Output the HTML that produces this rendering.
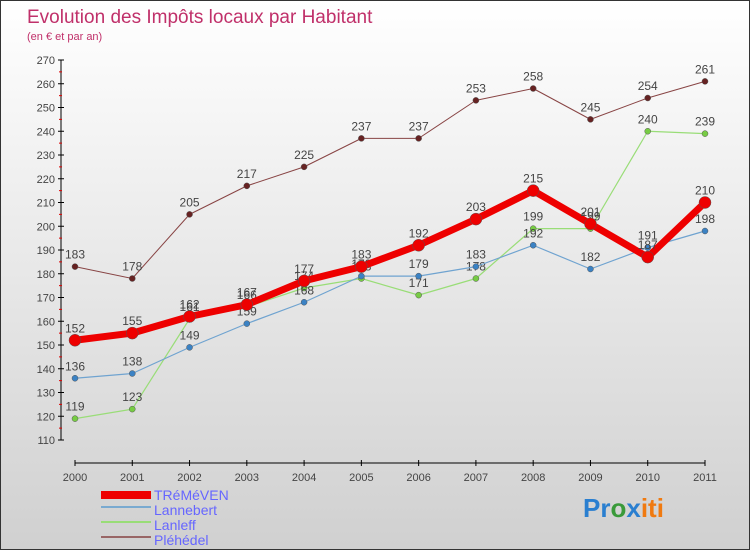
<!DOCTYPE html>
<html><head><meta charset="utf-8"><style>
body{margin:0;width:750px;height:550px;overflow:hidden;font-family:"Liberation Sans",sans-serif}
#wrap{position:relative;width:748px;height:548px;border:1px solid #333;background:linear-gradient(#fff,#d0d0d0)}
svg text{font-family:"Liberation Sans",sans-serif}
</style></head><body>
<div id="wrap">
<svg id="c" width="748" height="548">
<text x="26" y="22" font-size="19" fill="#c0306a">Evolution des Impôts locaux par Habitant</text>
<text x="26" y="39" font-size="11" fill="#c0306a">(en € et par an)</text>
<g id="axes"></g><g id="series"></g>
<g>
<rect x="100" y="490" width="50" height="8" fill="#e00"/>
<text x="153" y="499" font-size="14" fill="#6666ff">TRéMéVEN</text>
<rect x="100" y="505" width="50" height="2" fill="#7aaad0"/>
<text x="153" y="514" font-size="14" fill="#6666ff">Lannebert</text>
<rect x="100" y="520" width="50" height="2" fill="#99dd77"/>
<text x="153" y="529" font-size="14" fill="#6666ff">Lanleff</text>
<rect x="100" y="535" width="50" height="2" fill="#996666"/>
<text x="153" y="544" font-size="14" fill="#6666ff">Pléhédel</text>
</g>
<text x="582" y="516" font-size="26" font-weight="bold"><tspan fill="#2a7fd0">Pr</tspan><tspan fill="#3a9a3a">o</tspan><tspan fill="#2a7fd0">x</tspan><tspan fill="#f07a10">iti</tspan></text>
</svg></div>
<script>
const years=[2000,2001,2002,2003,2004,2005,2006,2007,2008,2009,2010,2011];
const yTicks=[110,120,130,140,150,160,170,180,190,200,210,220,230,240,250,260,270];
const tremeven=[152,155,162,167,177,183,192,203,215,201,187,210];
const lannebert=[136,138,149,159,168,179,179,183,192,182,191,198];
const lanleff=[119,123,161,166,174,178,171,178,199,199,240,239];
const plehedel=[183,178,205,217,225,237,237,253,258,245,254,261];
const NS="http://www.w3.org/2000/svg";
const X=i=>74+i*(630/11);
const Y=v=>439-(v-110)*(380/160);
function mk(t,a,p){const e=document.createElementNS(NS,t);for(const k in a)e.setAttribute(k,a[k]);p.appendChild(e);return e;}
const ax=document.getElementById('axes');
let l=mk('line',{x1:60,y1:Y(270),x2:60,y2:Y(110),stroke:'#000'},ax);


l=mk('line',{x1:X(0),y1:462,x2:X(11),y2:462,stroke:'#000'},ax);


yTicks.forEach(v=>{
 mk('line',{x1:57,x2:63,y1:Y(v),y2:Y(v),stroke:'#000'},ax);
 if(v<270) mk('line',{x1:58,x2:61,y1:Y(v+5),y2:Y(v+5),stroke:'#d00'},ax);
 const t=mk('text',{x:54,y:Y(v)+4,'font-size':11,fill:'#444','text-anchor':'end'},ax);t.textContent=v;
 
 
});
years.forEach((y,i)=>{
 mk('line',{x1:X(i),x2:X(i),y1:459,y2:465,stroke:'#000'},ax);
 const t=mk('text',{x:X(i),y:480,'font-size':11,fill:'#444','text-anchor':'middle'},ax);t.textContent=y;
 
 
});
const sg=document.getElementById('series');
function series(vals,color,w,r,dot,name){
 const g=mk('g',{},sg);
 
 
 const p=mk('polyline',{points:vals.map((v,i)=>X(i)+','+Y(v)).join(' '),fill:'none',stroke:color,'stroke-width':w,'stroke-linejoin':'round'},g);
 
 
 vals.forEach((v,i)=>{
  const c=mk('circle',{cx:X(i),cy:Y(v),r:r,fill:dot,stroke:'#555','stroke-width':0.5},g);
  
  
  const t=mk('text',{x:X(i),y:Y(v)-8,'font-size':12,fill:'#444','text-anchor':'middle'},g);t.textContent=v;
  
  
 });
}
series(plehedel,'#884444',1,3,'#662222','plehedel');
series(lanleff,'#99dd77',1.2,3,'#77cc44','lanleff');
series(lannebert,'#6fa3d0',1.2,3,'#3b82c4','lannebert');
series(tremeven,'#ee0000',7,6,'#ee0000','tremeven');
</script>
</body></html>
